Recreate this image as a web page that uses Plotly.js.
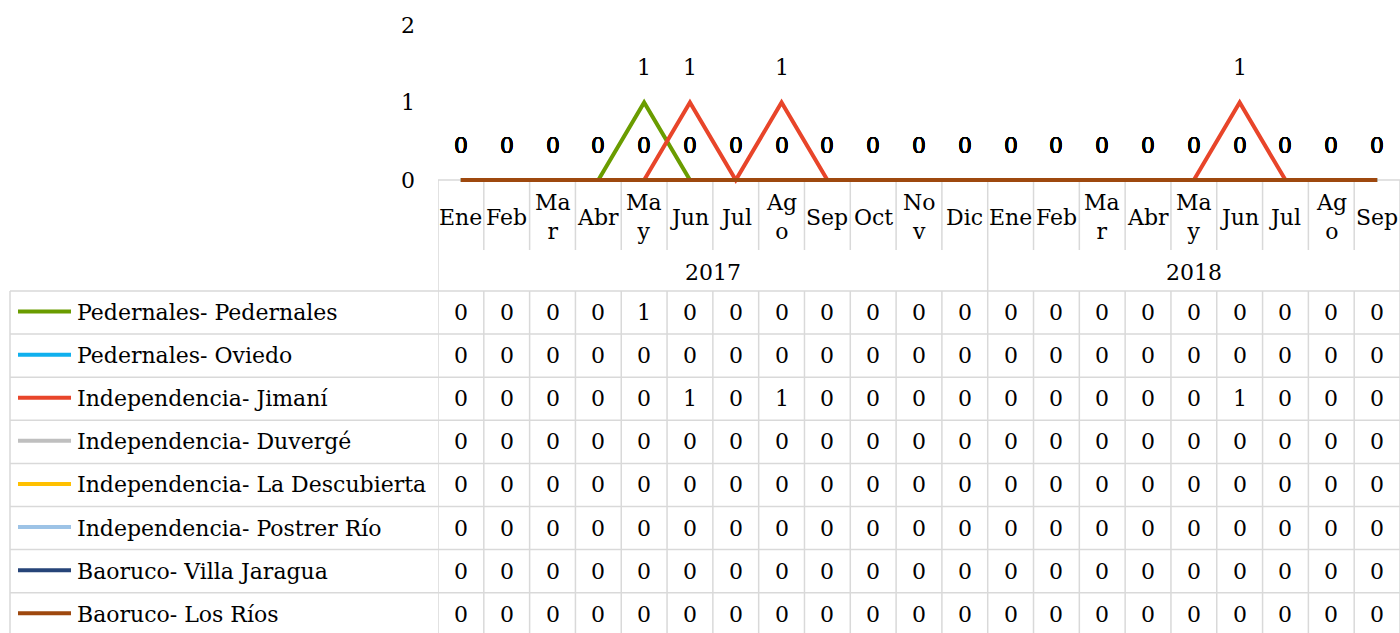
<!DOCTYPE html>
<html><head><meta charset="utf-8">
<script src="https://cdn.plot.ly/plotly-3.0.1.min.js"></script>
<style>html,body{margin:0;padding:0;background:#fff;}#chart{width:1400px;height:633px;}</style>
</head><body><div id="chart"></div>
<script>
// ---- data ----
const monthLabels = ["Ene","Feb","Ma<br>r","Abr","Ma<br>y","Jun","Jul","Ag<br>o","Sep","Oct","No<br>v","Dic",
                     "Ene","Feb","Ma<br>r","Abr","Ma<br>y","Jun","Jul","Ag<br>o","Sep"];
const years = ["2017","2018"];
const yearCounts = [12, 9];
const yTickVals = [0, 1, 2];
const yTickText = ["0", "1", "2"];
const seriesNames = ["Pedernales- Pedernales","Pedernales- Oviedo","Independencia- Jimaní","Independencia- Duvergé",
                     "Independencia- La Descubierta","Independencia- Postrer Río","Baoruco- Villa Jaragua","Baoruco- Los Ríos"];
const seriesColors = ["#6a9c00","#10b0ee","#e8452a","#bfbfbf","#ffc000","#9dc3e6","#264478","#9e480e"];
const pedernalesPedernales = [0,0,0,0,1,0,0,0,0,0,0,0,0,0,0,0,0,0,0,0,0];
const pedernalesOviedo     = [0,0,0,0,0,0,0,0,0,0,0,0,0,0,0,0,0,0,0,0,0];
const independenciaJimani  = [0,0,0,0,0,1,0,1,0,0,0,0,0,0,0,0,0,1,0,0,0];
const independenciaDuverge = [0,0,0,0,0,0,0,0,0,0,0,0,0,0,0,0,0,0,0,0,0];
const independenciaDescub  = [0,0,0,0,0,0,0,0,0,0,0,0,0,0,0,0,0,0,0,0,0];
const independenciaPostrer = [0,0,0,0,0,0,0,0,0,0,0,0,0,0,0,0,0,0,0,0,0];
const baorucoVillaJaragua  = [0,0,0,0,0,0,0,0,0,0,0,0,0,0,0,0,0,0,0,0,0];
const baorucoLosRios       = [0,0,0,0,0,0,0,0,0,0,0,0,0,0,0,0,0,0,0,0,0];
const seriesValues = [pedernalesPedernales, pedernalesOviedo, independenciaJimani, independenciaDuverge,
                      independenciaDescub, independenciaPostrer, baorucoVillaJaragua, baorucoLosRios];

// ---- layout helpers ----
const W = 1400, H = 633;
const FONT = "DejaVu Serif";
const FS = 22;
const GRID = "#d9d9d9";
const P = y => 1 - y / H;     // pixel y -> paper y
const PX = x => x / W;        // pixel x -> paper x
const plotTop = 25, zeroY = 180, unitPx = (zeroY - plotTop) / 2;
const yMin = -0.06;
const tableTop = 291, rowH = 43.1;
const idx = monthLabels.map((_, i) => i);

const traces = seriesValues.map((vals, s) => ({
  type: "scatter", mode: "lines", x: idx, y: vals, name: seriesNames[s],
  line: {color: seriesColors[s], width: 4}, cliponaxis: false, hoverinfo: "skip", showlegend: false
}));

const shapes = [];
const annotations = [];

// axis line at y=0
shapes.push({type: "line", xref: "x", yref: "y", x0: -0.5, x1: idx.length - 0.5, y0: 0, y1: 0,
             line: {color: GRID, width: 1.5}, layer: "below"});

// group boundaries
const boundaries = [0];
yearCounts.reduce((acc, c) => { boundaries.push(acc + c); return acc + c; }, 0);

for (let k = 0; k <= idx.length; k++) {
  const x = k - 0.5;
  if (boundaries.includes(k)) {
    shapes.push({type: "line", xref: "x", yref: "paper", x0: x, x1: x, y0: P(zeroY), y1: P(H),
                 line: {color: GRID, width: 1.5}, layer: "below"});
  } else {
    shapes.push({type: "line", xref: "x", yref: "paper", x0: x, x1: x, y0: P(zeroY), y1: P(250),
                 line: {color: GRID, width: 1.5}, layer: "below"});
    shapes.push({type: "line", xref: "x", yref: "paper", x0: x, x1: x, y0: P(tableTop), y1: P(H),
                 line: {color: GRID, width: 1.5}, layer: "below"});
  }
}
// table left border
shapes.push({type: "line", xref: "paper", yref: "paper", x0: PX(10), x1: PX(10), y0: P(tableTop), y1: P(H),
             line: {color: GRID, width: 1.5}, layer: "below"});
// table horizontal lines
for (let r = 0; r <= seriesNames.length; r++) {
  const y = tableTop + r * rowH;
  shapes.push({type: "line", xref: "paper", yref: "paper", x0: PX(10), x1: 1, y0: P(y), y1: P(y),
               line: {color: GRID, width: 1.5}, layer: "below"});
}

// data labels above points
seriesValues.forEach((vals, s) => {
  vals.forEach((v, i) => {
    annotations.push({xref: "x", yref: "y", x: i, y: v, text: String(v), showarrow: false,
                      yshift: 35, font: {family: FONT, size: FS, color: "#000"}});
  });
});

// month labels
monthLabels.forEach((m, i) => {
  annotations.push({xref: "x", yref: "paper", x: i, y: P(217), text: m, showarrow: false,
                    yanchor: "middle", font: {family: FONT, size: FS, color: "#000"}});
});
// year labels
let start = 0;
years.forEach((yr, g) => {
  const center = start + (yearCounts[g] - 1) / 2;
  annotations.push({xref: "x", yref: "paper", x: center, y: P(272), text: yr, showarrow: false,
                    yanchor: "middle", font: {family: FONT, size: FS, color: "#000"}});
  start += yearCounts[g];
});

// data table rows
seriesNames.forEach((name, s) => {
  const cy = tableTop + rowH * (s + 0.5);
  shapes.push({type: "line", xref: "paper", yref: "paper", x0: PX(18), x1: PX(71), y0: P(cy - 1), y1: P(cy - 1),
               line: {color: seriesColors[s], width: 4}});
  annotations.push({xref: "paper", yref: "paper", x: PX(75), y: P(cy), text: name, showarrow: false,
                    xanchor: "left", yanchor: "middle", font: {family: FONT, size: FS, color: "#000"}});
  seriesValues[s].forEach((v, i) => {
    annotations.push({xref: "x", yref: "paper", x: i, y: P(cy), text: String(v), showarrow: false,
                      yanchor: "middle", font: {family: FONT, size: FS, color: "#000"}});
  });
});

const layout = {
  width: W, height: H, margin: {l: 0, r: 0, t: 0, b: 0},
  paper_bgcolor: "#fff", plot_bgcolor: "rgba(0,0,0,0)",
  font: {family: FONT, size: FS, color: "#000"},
  showlegend: false,
  xaxis: {domain: [PX(438), 1], range: [-0.5, idx.length - 0.5], showticklabels: false, showgrid: false,
          zeroline: false, showline: false, ticks: "", fixedrange: true},
  yaxis: {domain: [P(zeroY - yMin * unitPx), P(plotTop)], range: [yMin, 2], tickvals: yTickVals, ticktext: yTickText,
          showgrid: false, zeroline: false, showline: false, ticks: "", ticklabelstandoff: 22,
          tickfont: {family: FONT, size: FS, color: "#000"}, fixedrange: true},
  shapes: shapes, annotations: annotations
};

Plotly.newPlot("chart", traces, layout, {staticPlot: true, displayModeBar: false});
</script>
</body></html>
